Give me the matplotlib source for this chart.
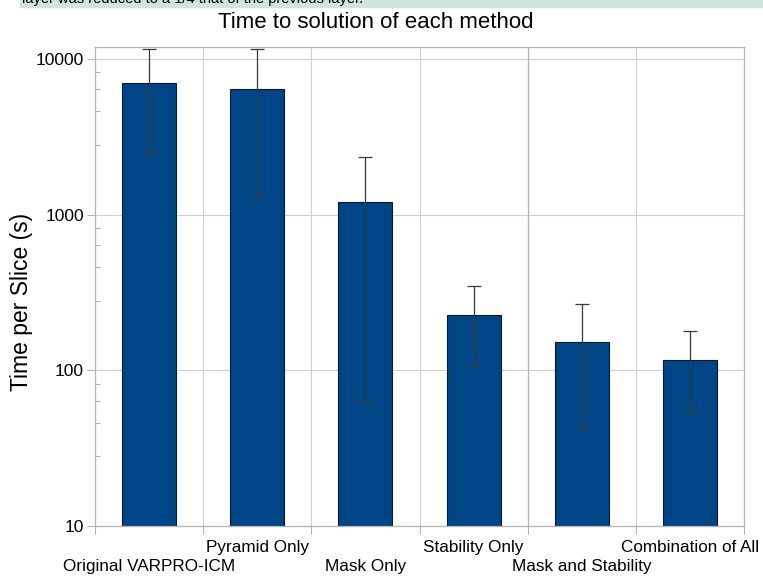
import matplotlib.pyplot as plt
from matplotlib.patches import Rectangle
from matplotlib.ticker import FixedLocator, NullFormatter, NullLocator

plt.rcParams['font.family'] = ['Liberation Sans', 'DejaVu Sans']

# data (seconds per slice, log axis)
methods = ['Original VARPRO-ICM', 'Pyramid Only', 'Mask Only',
           'Stability Only', 'Mask and Stability', 'Combination of All']
times = [7010, 6410, 1212, 226, 153, 116]
err_low = [2500, 1306, 64, 104.5, 42, 53.7]
err_high = [11600, 11600, 2356, 347, 265, 178]

y_major = [10, 100, 1000, 10000]
y_minor = [28, 46, 64, 82, 280, 460, 640, 820, 2800, 4600, 6400, 8200]

fig = plt.figure(figsize=(7.63, 5.76), dpi=100)

# strip of slide text cut off at the top
fig.patches.append(Rectangle((20 / 763, 1 - 7 / 576), 1, 7 / 576,
                             transform=fig.transFigure, color='#cfe4dc', zorder=0))
fig.text(22 / 763, 1 - 3 / 576, 'layer was reduced to a 1/4 that of the previous layer.',
         fontsize=10.5, va='baseline', ha='left')

ax = fig.add_axes([95 / 763, 50 / 576, 649 / 763, 479 / 576])

x = list(range(len(methods)))
yerr = [[t - lo for t, lo in zip(times, err_low)],
        [hi - t for t, hi in zip(times, err_high)]]
ax.bar(x, times, width=0.5, color='#004586', edgecolor='#0a1a2a', linewidth=0.8, zorder=2)
ax.errorbar(x, times, yerr=yerr, fmt='none', ecolor='#3a3a3a', elinewidth=0.9,
            capsize=5, capthick=0.9, zorder=3)

ax.set_yscale('log')
ax.set_ylim(10, 11940)
ax.set_xlim(-0.5, len(methods) - 0.5)

ax.yaxis.set_major_locator(FixedLocator(y_major))
ax.yaxis.set_minor_locator(FixedLocator(y_minor))
ax.yaxis.set_minor_formatter(NullFormatter())
ax.set_yticklabels([str(v) for v in y_major])
ax.tick_params(axis='y', which='major', direction='out', length=6, width=0.8,
               color='#b3b3b3', labelsize=12.5, pad=2)
ax.tick_params(axis='y', which='minor', direction='in', length=3.6, width=0.8,
               color='#b3b3b3')

# category boundaries carry the ticks and grid, labels are staggered in two rows
ax.xaxis.set_major_locator(NullLocator())
ax.set_xticks([i + 0.5 for i in range(-1, len(methods))], minor=True)
ax.xaxis.set_minor_formatter(NullFormatter())
ax.tick_params(axis='x', which='minor', direction='out', length=6, width=0.8,
               color='#b3b3b3')
for i, m in enumerate(methods):
    off = 33 if i % 2 == 0 else 14
    ax.annotate(m, xy=(i, 0), xycoords=('data', 'axes fraction'),
                xytext=(0, -off), textcoords='offset pixels',
                ha='center', va='top', fontsize=12.3)

ax.grid(True, which='major', axis='y', color='#d0d0d0', linewidth=0.8, zorder=0)
ax.grid(True, which='minor', axis='x', color='#d0d0d0', linewidth=0.8, zorder=0)
ax.axvline(3.5, color='#b3b3b3', linewidth=0.9, zorder=1)
ax.set_axisbelow(True)
for s in ax.spines.values():
    s.set_color('#b3b3b3')
    s.set_linewidth(0.9)

fig.text(376 / 763, 1 - 22 / 576, 'Time to solution of each method', fontsize=16,
         ha='center', va='center')
fig.text(22 / 763, 1 - 302 / 576, 'Time per Slice (s)', fontsize=16.5, rotation=90,
         ha='center', va='center')

fig.savefig('out.png', dpi=100)
